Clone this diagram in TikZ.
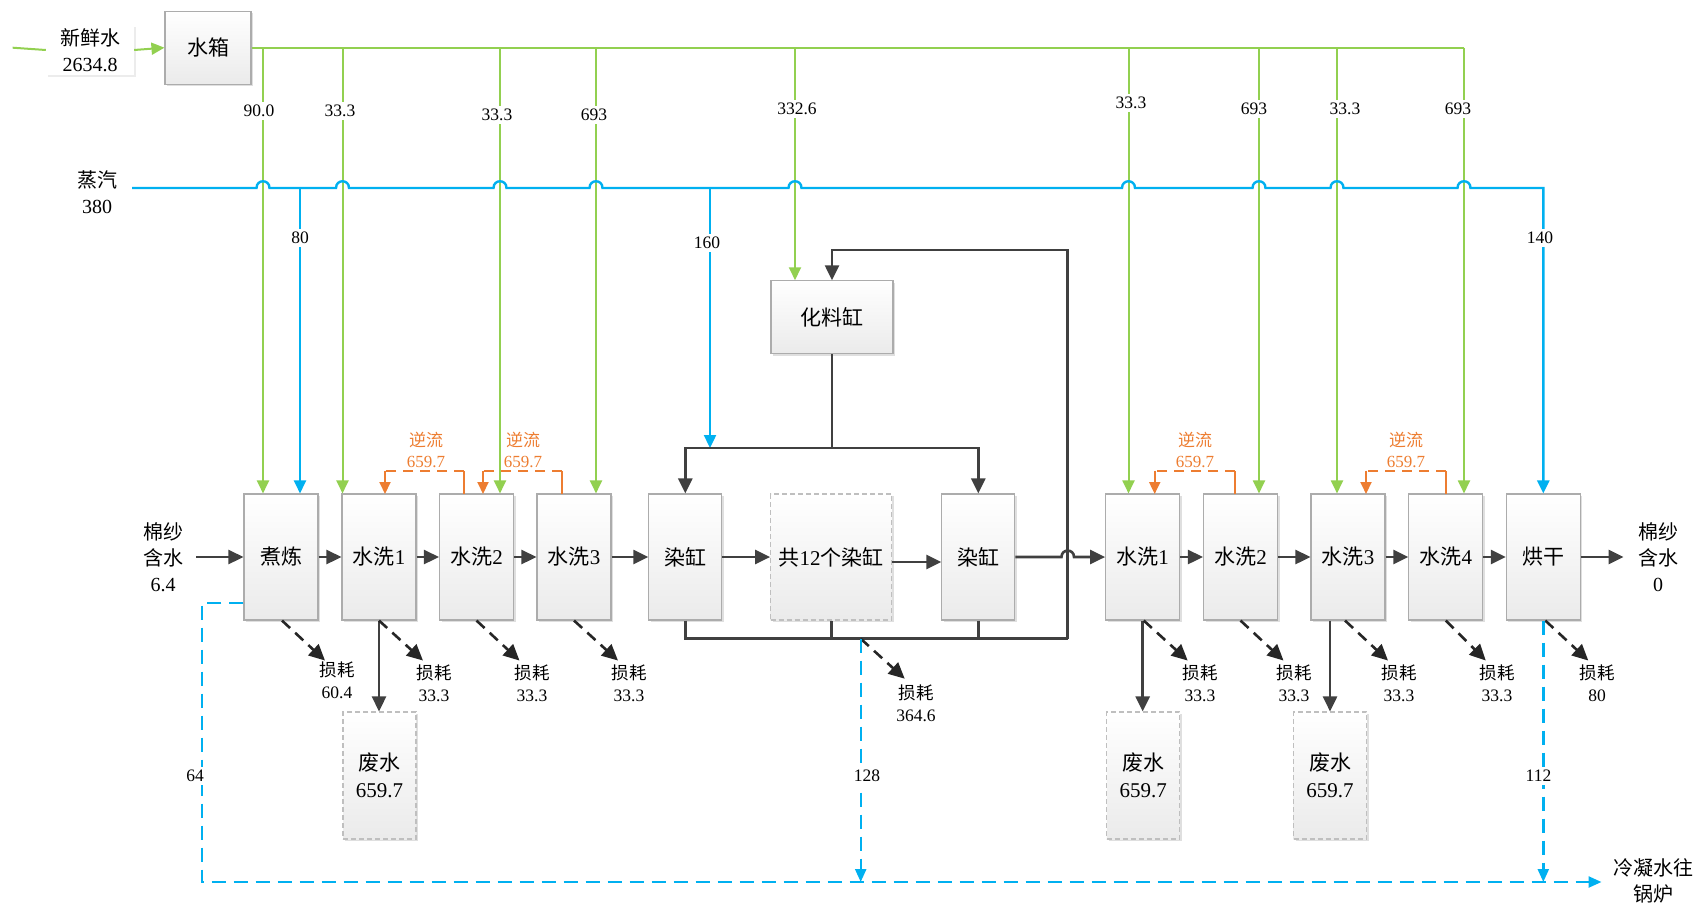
\documentclass[tikz,border=0pt]{standalone}
\usepackage{fontspec}
\setmainfont{Liberation Serif}
\newfontfamily\zhfont{Noto Sans CJK SC}
\newcommand\zt[1]{{\zhfont #1}}
\usetikzlibrary{arrows.meta,shadows}
\definecolor{cgreen}{RGB}{146,208,80}
\definecolor{cblue}{RGB}{0,176,240}
\definecolor{corange}{RGB}{237,125,49}
\definecolor{cgray}{RGB}{64,64,64}
\begin{document}
\begin{tikzpicture}[x=1pt,y=-1pt,
  proc/.style={draw=gray!65, line width=1.1pt, top color=white, bottom color=gray!16,
    minimum width=74pt, minimum height=126pt, inner sep=0pt, align=center,
    font=\fontsize{21}{27}\selectfont,
    drop shadow={shadow xshift=2pt,shadow yshift=-2pt,opacity=0.25,fill=gray}},
  procd/.style={proc, draw=gray!50, dash pattern=on 5pt off 3pt},
  gl/.style={draw=cgreen, line width=2pt},
  gla/.style={gl, -{Triangle[length=13pt,width=12pt]}},
  bl/.style={draw=cblue, line width=2.4pt},
  bla/.style={bl, -{Triangle[length=13pt,width=12pt]}},
  bd/.style={bl, dash pattern=on 14pt off 8pt},
  bda/.style={bd, -{Triangle[length=13pt,width=11pt]}},
  gyl/.style={draw=cgray, line width=2.6pt},
  gya/.style={gyl, -{Triangle[length=15pt,width=14pt]}},
  la/.style={draw=black!85, line width=2.6pt, dash pattern=on 11pt off 7pt, -{Triangle[length=16pt,width=15pt]}},
  ol/.style={draw=corange, line width=2pt},
  old/.style={ol, dash pattern=on 10pt off 7pt},
  ola/.style={ol, -{Triangle[length=12pt,width=11pt]}},
  num/.style={fill=white, inner sep=3.5pt, font=\fontsize{17.5}{19}\selectfont},
  lt/.style={align=center, font=\fontsize{17.5}{22}\selectfont},
  ot/.style={align=center, text=corange, font=\fontsize{17}{21}\selectfont},
  txt/.style={align=center, font=\fontsize{20}{26}\selectfont}
]
\useasboundingbox (0,0) rectangle (1703,907);

% ---------- boxes ----------
\node[proc] (zl) at (281,557) {\zt{煮炼}};
\node[proc] (a1) at (379,557) {\zt{水洗}1};
\node[proc] (a2) at (476.5,557) {\zt{水洗}2};
\node[proc] (a3) at (574,557) {\zt{水洗}3};
\node[proc, minimum width=73pt] (r1) at (685.3,557) {\zt{染缸}};
\node[procd, minimum width=121pt] (rg) at (831.2,557) {\zt{共}12\zt{个染缸}};
\node[proc, minimum width=73pt] (r2) at (978.3,557) {\zt{染缸}};
\node[proc] (b1) at (1142.7,557) {\zt{水洗}1};
\node[proc] (b2) at (1240.5,557) {\zt{水洗}2};
\node[proc] (b3) at (1348,557) {\zt{水洗}3};
\node[proc] (b4) at (1445.8,557) {\zt{水洗}4};
\node[proc] (hg) at (1543.3,557) {\zt{烘干}};
\node[proc, minimum width=122pt, minimum height=73pt] (hl) at (832,317.3) {\zt{化料缸}};
\node[proc, minimum width=86pt, minimum height=73pt] (sx) at (208,47.7) {\zt{水箱}};
\node[procd, minimum width=73pt, minimum height=127pt] (w1) at (379.5,775.5) {\zt{废水}\\659.7};
\node[procd, minimum width=73pt, minimum height=127pt] (w2) at (1143.3,775.5) {\zt{废水}\\659.7};
\node[procd, minimum width=73pt, minimum height=127pt] (w3) at (1330,775.5) {\zt{废水}\\659.7};

% ---------- text labels ----------
\node[txt, fill=white, minimum width=88pt, minimum height=50pt, inner sep=0pt,
  drop shadow={shadow xshift=2pt,shadow yshift=-2pt,opacity=0.15,fill=gray}] (fw) at (90,50) {\zt{新鲜水}\\2634.8};
\node[txt] (zq) at (97,192) {\zt{蒸汽}\\380};
\node[txt] (yin) at (163,557) {\zt{棉纱}\\\zt{含水}\\6.4};
\node[txt] (yout) at (1658,557) {\zt{棉纱}\\\zt{含水}\\0};
\node[txt] (ln) at (1653,881) {\zt{冷凝水往}\\\zt{锅炉}};

% ---------- coordinates ----------
\coordinate (gin) at (12.6,47.7);
\coordinate (g1) at (263,47.7);
\coordinate (g2) at (342.5,47.7);
\coordinate (g3) at (500,47.7);
\coordinate (g4) at (596,47.7);
\coordinate (g5) at (795,47.7);
\coordinate (g6) at (1128.5,47.7);
\coordinate (g7) at (1259,47.7);
\coordinate (g8) at (1337,47.7);
\coordinate (g9) at (1464,47.7);
\coordinate (s0) at (132,188);
\coordinate (s1) at (300,188);
\coordinate (s2) at (710,188);
\coordinate (jn) at (710,448);
\coordinate (c1) at (1067.7,638.7);
\coordinate (c2) at (1067.7,250);
\coordinate (dl) at (860.7,638.7);
\coordinate (cin) at (196,557);
\coordinate (cout) at (1623.5,557);
\coordinate (cb) at (202,882);
\coordinate (cend) at (1601.5,882);

% ---------- fresh water (green) ----------
\draw[gl] (gin) -- (fw.west);
\draw[gla] (fw.east) -- (sx.west);
\draw[gl] (sx.east) -- (g9);
\draw[gla] (g1) -- (g1 |- zl.north);
\draw[gla] (g2) -- (g2 |- a1.north);
\draw[gla] (g3) -- (g3 |- a2.north);
\draw[gla] (g4) -- (g4 |- a3.north);
\draw[gla] (g5) -- (g5 |- hl.north);
\draw[gla] (g6) -- (g6 |- b1.north);
\draw[gla] (g7) -- (g7 |- b2.north);
\draw[gla] (g8) -- (g8 |- b3.north);
\draw[gla] (g9) -- (g9 |- b4.north);
\node[num] at (259,111) {90.0};
\node[num] at (340,111) {33.3};
\node[num] at (497,115) {33.3};
\node[num] at (594,115) {693};
\node[num] at (797,109) {332.6};
\node[num] at (1131,103) {33.3};
\node[num] at (1254,109) {693};
\node[num] at (1345,109) {33.3};
\node[num] at (1458,109) {693};

% ---------- steam (blue) ----------
\draw[bla] (s0) -- (256.5,188) .. controls (256.5,179) and (269.5,179) .. (269.5,188)
  -- (336,188) .. controls (336,179) and (349,179) .. (349,188)
  -- (493.5,188) .. controls (493.5,179) and (506.5,179) .. (506.5,188)
  -- (589.5,188) .. controls (589.5,179) and (602.5,179) .. (602.5,188)
  -- (788.5,188) .. controls (788.5,179) and (801.5,179) .. (801.5,188)
  -- (1122,188) .. controls (1122,179) and (1135,179) .. (1135,188)
  -- (1252.5,188) .. controls (1252.5,179) and (1265.5,179) .. (1265.5,188)
  -- (1330.5,188) .. controls (1330.5,179) and (1343.5,179) .. (1343.5,188)
  -- (1457.5,188) .. controls (1457.5,179) and (1470.5,179) .. (1470.5,188)
  -- (hg.north |- s0) -- (hg.north);
\draw[bla] (s1) -- (s1 |- zl.north);
\draw[bla] (s2) -- (jn);
\node[num] at (300,238) {80};
\node[num] at (707,243) {160};
\node[num] at (1540,238) {140};

% ---------- counter-flow (orange) ----------
\draw[ol] (464,494) -- (464,470.7);
\draw[old] (464,470.7) -- (385,470.7);
\draw[ola] (385,470.7) -- (385,494);
\draw[ol] (562,494) -- (562,470.7);
\draw[old] (562,470.7) -- (483,470.7);
\draw[ola] (483,470.7) -- (483,494);
\draw[ol] (1235,494) -- (1235,470.7);
\draw[old] (1235,470.7) -- (1154.7,470.7);
\draw[ola] (1154.7,470.7) -- (1154.7,494);
\draw[ol] (1445.5,494) -- (1445.5,470.7);
\draw[old] (1445.5,470.7) -- (1366,470.7);
\draw[ola] (1366,470.7) -- (1366,494);
\node[ot] at (426,450) {\zt{逆流}\\659.7};
\node[ot] at (523,450) {\zt{逆流}\\659.7};
\node[ot] at (1195,450) {\zt{逆流}\\659.7};
\node[ot] at (1406,450) {\zt{逆流}\\659.7};

% ---------- main flow (gray) ----------
\draw[gya] (cin) -- (zl.west);
\draw[gya] (zl.east) -- (a1.west);
\draw[gya] (a1.east) -- (a2.west);
\draw[gya] (a2.east) -- (a3.west);
\draw[gya] (a3.east) -- (r1.west);
\draw[gya] (r1.east) -- (rg.west);
\draw[gya] ([yshift=-5pt]rg.east) -- ([yshift=-5pt]r2.west);
\draw[gya] (r2.east) -- (1061.5,557) .. controls (1061.5,548.5) and (1074,548.5) .. (1074,557) -- (b1.west);
\draw[gya] (b1.east) -- (b2.west);
\draw[gya] (b2.east) -- (b3.west);
\draw[gya] (b3.east) -- (b4.west);
\draw[gya] (b4.east) -- (hg.west);
\draw[gya] (hg.east) -- (cout);

% dye section
\draw[gya] (c1) -- (c2) -- (hl.north |- c2) -- (hl.north);
\draw[gyl] (r1.south) -- (r1.south |- c1) -- (c1);
\draw[gyl] (rg.south) -- (rg.south |- c1);
\draw[gyl] (r2.south) -- (r2.south |- c1);
\draw[gyl] (hl.south) -- (hl.south |- jn);
\draw[gya] (hl.south |- jn) -| (r1.north);
\draw[gya] (hl.south |- jn) -| (r2.north);

% waste water
\draw[gya] (a1.south) -- (a1.south |- w1.north);
\draw[gya] (b1.south) -- (b1.south |- w2.north);
\draw[gya] (w3.north |- b3.south) -- (w3.north);

% ---------- losses ----------
\draw[la] ([xshift=1pt]zl.south) -- ++(43,40);
\draw[la] (a1.south) -- ++(44,40);
\draw[la] (a2.south) -- ++(43,40);
\draw[la] (a3.south) -- ++(44,40);
\draw[la] (dl) -- ++(44,40);
\draw[la] ([xshift=1pt]b1.south) -- ++(44,40);
\draw[la] (b2.south) -- ++(43,40);
\draw[la] ([xshift=-3pt]b3.south) -- ++(43,40);
\draw[la] (b4.south) -- ++(40,40);
\draw[la] ([xshift=2pt]hg.south) -- ++(43,40);
\node[lt] at (337,680) {\zt{损耗}\\60.4};
\node[lt] at (434,683) {\zt{损耗}\\33.3};
\node[lt] at (532,683) {\zt{损耗}\\33.3};
\node[lt] at (629,683) {\zt{损耗}\\33.3};
\node[lt] at (916,703) {\zt{损耗}\\364.6};
\node[lt] at (1200,683) {\zt{损耗}\\33.3};
\node[lt] at (1294,683) {\zt{损耗}\\33.3};
\node[lt] at (1399,683) {\zt{损耗}\\33.3};
\node[lt] at (1497,683) {\zt{损耗}\\33.3};
\node[lt] at (1597,683) {\zt{损耗}\\80};

% ---------- condensate (blue dashed) ----------
\draw[bda] ([yshift=-46pt]zl.west) -| (cb) -- (cend);
\draw[bda] (dl) -- (dl |- cb);
\draw[bda] (hg.south) -- (hg.south |- cb);
\node[num] at (195,776) {64};
\node[num] at (867,776) {128};
\node[num] at (1538.5,776) {112};
\end{tikzpicture}
\end{document}
